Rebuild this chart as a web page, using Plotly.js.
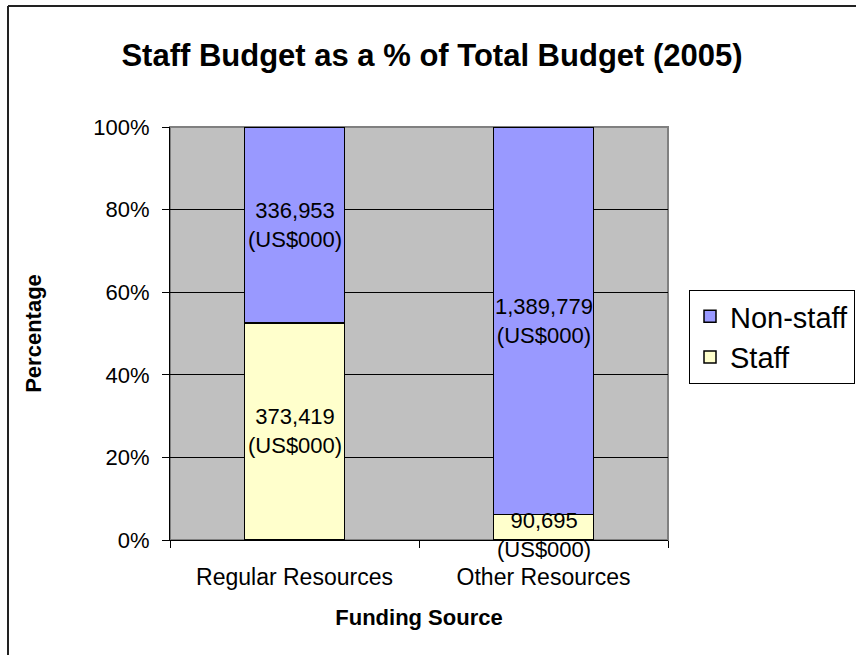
<!DOCTYPE html>
<html>
<head>
<meta charset="utf-8">
<script src="https://cdn.plot.ly/plotly-3.0.1.min.js"></script>
<style>
html,body{margin:0;padding:0;background:#fff;}
#chart{width:856px;height:655px;}
</style>
</head>
<body>
<div id="chart"></div>
<script>
// Data
const categories = ["Regular Resources", "Other Resources"];
const staffValues = [373419, 90695];
const nonStaffValues = [336953, 1389779];
const seriesNames = ["Staff", "Non-staff"];
const yTickVals = [0, 20, 40, 60, 80, 100];
const yTickText = ["0%", "20%", "40%", "60%", "80%", "100%"];

const FONT = "Liberation Sans, Arial, sans-serif";

const totals = categories.map((c, i) => staffValues[i] + nonStaffValues[i]);

const traces = [
  {
    type: "bar", name: seriesNames[0], x: categories, y: staffValues,
    marker: {color: "#FFFFCC", line: {color: "#000000", width: 1.5}},
    width: 0.4, hoverinfo: "x+y+name"
  },
  {
    type: "bar", name: seriesNames[1], x: categories, y: nonStaffValues,
    marker: {color: "#9999FF", line: {color: "#000000", width: 1.5}},
    width: 0.4, hoverinfo: "x+y+name"
  }
];

const fmt = v => v.toLocaleString("en-US") + "<br>(US$000)";
const annotations = [];
categories.forEach((c, i) => {
  const sPct = staffValues[i] / totals[i] * 100;
  const nPct = nonStaffValues[i] / totals[i] * 100;
  annotations.push({
    x: c, y: sPct / 2, xref: "x", yref: "y", text: fmt(staffValues[i]),
    showarrow: false, font: {family: FONT, size: 22, color: "#000"},
    yshift: sPct < 10 ? -8 : 0
  });
  annotations.push({
    x: c, y: sPct + nPct / 2, xref: "x", yref: "y", text: fmt(nonStaffValues[i]),
    showarrow: false, font: {family: FONT, size: 22, color: "#000"}
  });
});

const L = 170, T = 127, PW = 498, PH = 413;
const px = v => (v - L) / PW;
const py = v => (T + PH - v) / PH;

const layout = {
  width: 856, height: 655,
  margin: {l: L, r: 856 - L - PW, t: T, b: 655 - T - PH, pad: 0, autoexpand: false},
  paper_bgcolor: "#FFFFFF",
  plot_bgcolor: "#C0C0C0",
  barmode: "stack",
  barnorm: "percent",
  font: {family: FONT, color: "#000"},
  title: {
    text: "<b>Staff Budget as a % of Total Budget (2005)</b>",
    font: {family: FONT, size: 31, color: "#000"},
    x: 432 / 856, xanchor: "center", xref: "container",
    y: 1 - 55 / 655, yanchor: "middle", yref: "container"
  },
  xaxis: {
    type: "category",
    showline: true, linecolor: "#000", linewidth: 1,
    ticks: "outside", ticklen: 7, tickcolor: "#000", tickwidth: 1,
    tickson: "boundaries",
    showgrid: false, zeroline: false,
    tickfont: {family: FONT, size: 23, color: "#000"},
    ticklabelstandoff: 16,
    title: {text: "<b>Funding Source</b>", font: {family: FONT, size: 22, color: "#000"}, standoff: 21},
    fixedrange: true
  },
  yaxis: {
    range: [0, 100], tickvals: yTickVals, ticktext: yTickText,
    showline: true, linecolor: "#000", linewidth: 1,
    ticks: "outside", ticklen: 7, tickcolor: "#000", tickwidth: 1,
    showgrid: true, gridcolor: "#000", gridwidth: 1,
    zeroline: false,
    tickfont: {family: FONT, size: 22, color: "#000"},
    ticklabelstandoff: 8,
    title: {text: "<b>Percentage</b>", font: {family: FONT, size: 22, color: "#000"}, standoff: 45},
    fixedrange: true
  },
  legend: {
    x: px(855), xanchor: "right", y: py(290), yanchor: "top",
    traceorder: "reversed",
    bgcolor: "#FFFFFF", bordercolor: "#000", borderwidth: 1,
    font: {family: FONT, size: 29, color: "#000"},
    itemclick: false, itemdoubleclick: false
  },
  annotations: annotations,
  shapes: [
    {type: "rect", xref: "paper", yref: "paper", x0: 0, x1: 1, y0: 0, y1: 1,
     line: {color: "#808080", width: 2}, layer: "below", fillcolor: "rgba(0,0,0,0)"},
    {type: "line", xref: "paper", yref: "paper", x0: px(8), x1: px(8), y0: py(6), y1: py(700),
     line: {color: "#222", width: 2}},
    {type: "line", xref: "paper", yref: "paper", x0: px(8), x1: px(900), y0: py(6), y1: py(6),
     line: {color: "#222", width: 2}}
  ],
  showlegend: true
};

Plotly.newPlot("chart", traces, layout, {displayModeBar: false, staticPlot: true});
</script>
</body>
</html>
